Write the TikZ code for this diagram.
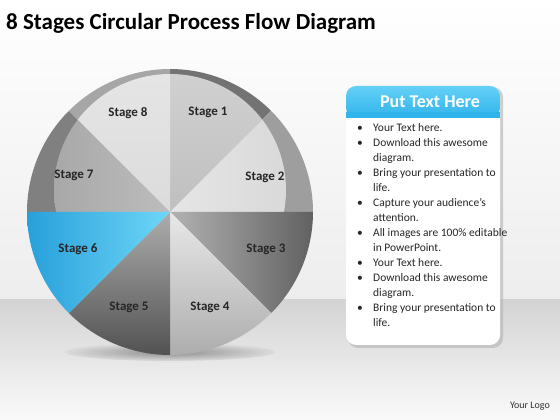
\documentclass[tikz,border=0pt]{standalone}
\usepackage{fontspec}
\setmainfont{Carlito}
\definecolor{bluedark}{RGB}{40,160,218}
\definecolor{bluelight}{RGB}{110,214,248}
\definecolor{headtop}{RGB}{100,208,247}
\definecolor{headbot}{RGB}{48,180,234}
\begin{document}
\begin{tikzpicture}[x=1pt,y=1pt,
  stagelabel/.style={font=\bfseries\fontsize{13}{15}\selectfont, text=black!85, inner sep=0pt}]
\useasboundingbox (0,0) rectangle (560,420);
% background
\shade[top color=white, bottom color=black!7] (0,120) rectangle (560,420);
\shade[top color=black!17, bottom color=black!2] (0,0) rectangle (560,120);
% shadow under the circle
\shade[inner color=black!45, outer color=black!14] (170,68) ellipse [x radius=105, y radius=9];
% circle sectors
\begin{scope}[shift={(170,208)}]
  \def\R{143}
  % upper sectors: rim colours
  \fill[black!55] (0,0) -- (90:\R) arc[start angle=90,end angle=45,radius=\R] -- cycle;
  \fill[black!38] (0,0) -- (45:\R) arc[start angle=45,end angle=0,radius=\R] -- cycle;
  \fill[black!50] (0,0) -- (180:\R) arc[start angle=180,end angle=135,radius=\R] -- cycle;
  \fill[black!35] (0,0) -- (135:\R) arc[start angle=135,end angle=90,radius=\R] -- cycle;
  % upper sectors: glossy inner part
  \begin{scope}
    \clip (0,22) circle[radius=116];
    \clip (-150,0) rectangle (150,150);
    \shade[top color=black!18, bottom color=black!25] (0,0) -- (90:\R) arc[start angle=90,end angle=45,radius=\R] -- cycle;
    \shade[left color=black!10, right color=black!16] (0,0) -- (45:\R) arc[start angle=45,end angle=0,radius=\R] -- cycle;
    \shade[left color=black!36, right color=black!26] (0,0) -- (180:\R) arc[start angle=180,end angle=135,radius=\R] -- cycle;
    \shade[top color=black!10, bottom color=black!14] (0,0) -- (135:\R) arc[start angle=135,end angle=90,radius=\R] -- cycle;
  \end{scope}
  % lower sectors
  \shade[left color=black!30, right color=black!62] (0,0) -- (0:\R) arc[start angle=0,end angle=-45,radius=\R] -- cycle;
  \shade[top color=black!9, bottom color=black!32] (0,0) -- (-45:\R) arc[start angle=-45,end angle=-90,radius=\R] -- cycle;
  \shade[top color=black!32, bottom color=black!68] (0,0) -- (-90:\R) arc[start angle=-90,end angle=-135,radius=\R] -- cycle;
  \shade[left color=bluedark, right color=bluelight] (0,0) -- (-135:\R) arc[start angle=-135,end angle=-180,radius=\R] -- cycle;
\end{scope}
% stage labels
\node[stagelabel] (s1) at (208,308) {Stage 1};
\node[stagelabel] (s2) at (265,243) {Stage 2};
\node[stagelabel] (s3) at (266,171) {Stage 3};
\node[stagelabel] (s4) at (210,113) {Stage 4};
\node[stagelabel] (s5) at (129,113) {Stage 5};
\node[stagelabel] (s6) at (78,171) {Stage 6};
\node[stagelabel] (s7) at (74,245) {Stage 7};
\node[stagelabel] (s8) at (128,307) {Stage 8};
% title
\node[anchor=west, inner sep=0pt, font=\bfseries\fontsize{23}{27}\selectfont] (title) at (6,397) {8 Stages Circular Process Flow Diagram};
% text box
\fill[black!30, opacity=0.6, rounded corners=10pt] (348,72) rectangle (503,333);
\fill[white, rounded corners=10pt] (346,75) rectangle (500,334);
\shade[top color=headtop, bottom color=headbot, rounded corners=10pt]
  (346,302) -- (346,334) -- (500,334) -- (500,302) -- cycle;
\fill[headbot] (346,302) rectangle (500,308);
\node[font=\bfseries\fontsize{18}{21}\selectfont, text=white] (head) at (430,318) {Put Text Here};
\node[anchor=north west, inner sep=0pt, align=left, font=\fontsize{11.5}{15}\selectfont, text=black!85] (body) at (357,297)
{\makebox[16pt][l]{\textbullet}Your Text here.\\
\makebox[16pt][l]{\textbullet}Download this awesome\\
\hspace*{16pt}diagram.\\
\makebox[16pt][l]{\textbullet}Bring your presentation to\\
\hspace*{16pt}life.\\
\makebox[16pt][l]{\textbullet}Capture your audience’s\\
\hspace*{16pt}attention.\\
\makebox[16pt][l]{\textbullet}All images are 100\% editable\\
\hspace*{16pt}in PowerPoint.\\
\makebox[16pt][l]{\textbullet}Your Text here.\\
\makebox[16pt][l]{\textbullet}Download this awesome\\
\hspace*{16pt}diagram.\\
\makebox[16pt][l]{\textbullet}Bring your presentation to\\
\hspace*{16pt}life.};
% logo
\node[anchor=east, inner sep=0pt, font=\fontsize{10}{12}\selectfont, text=black!80] (logo) at (550,14) {Your Logo};
\end{tikzpicture}
\end{document}
